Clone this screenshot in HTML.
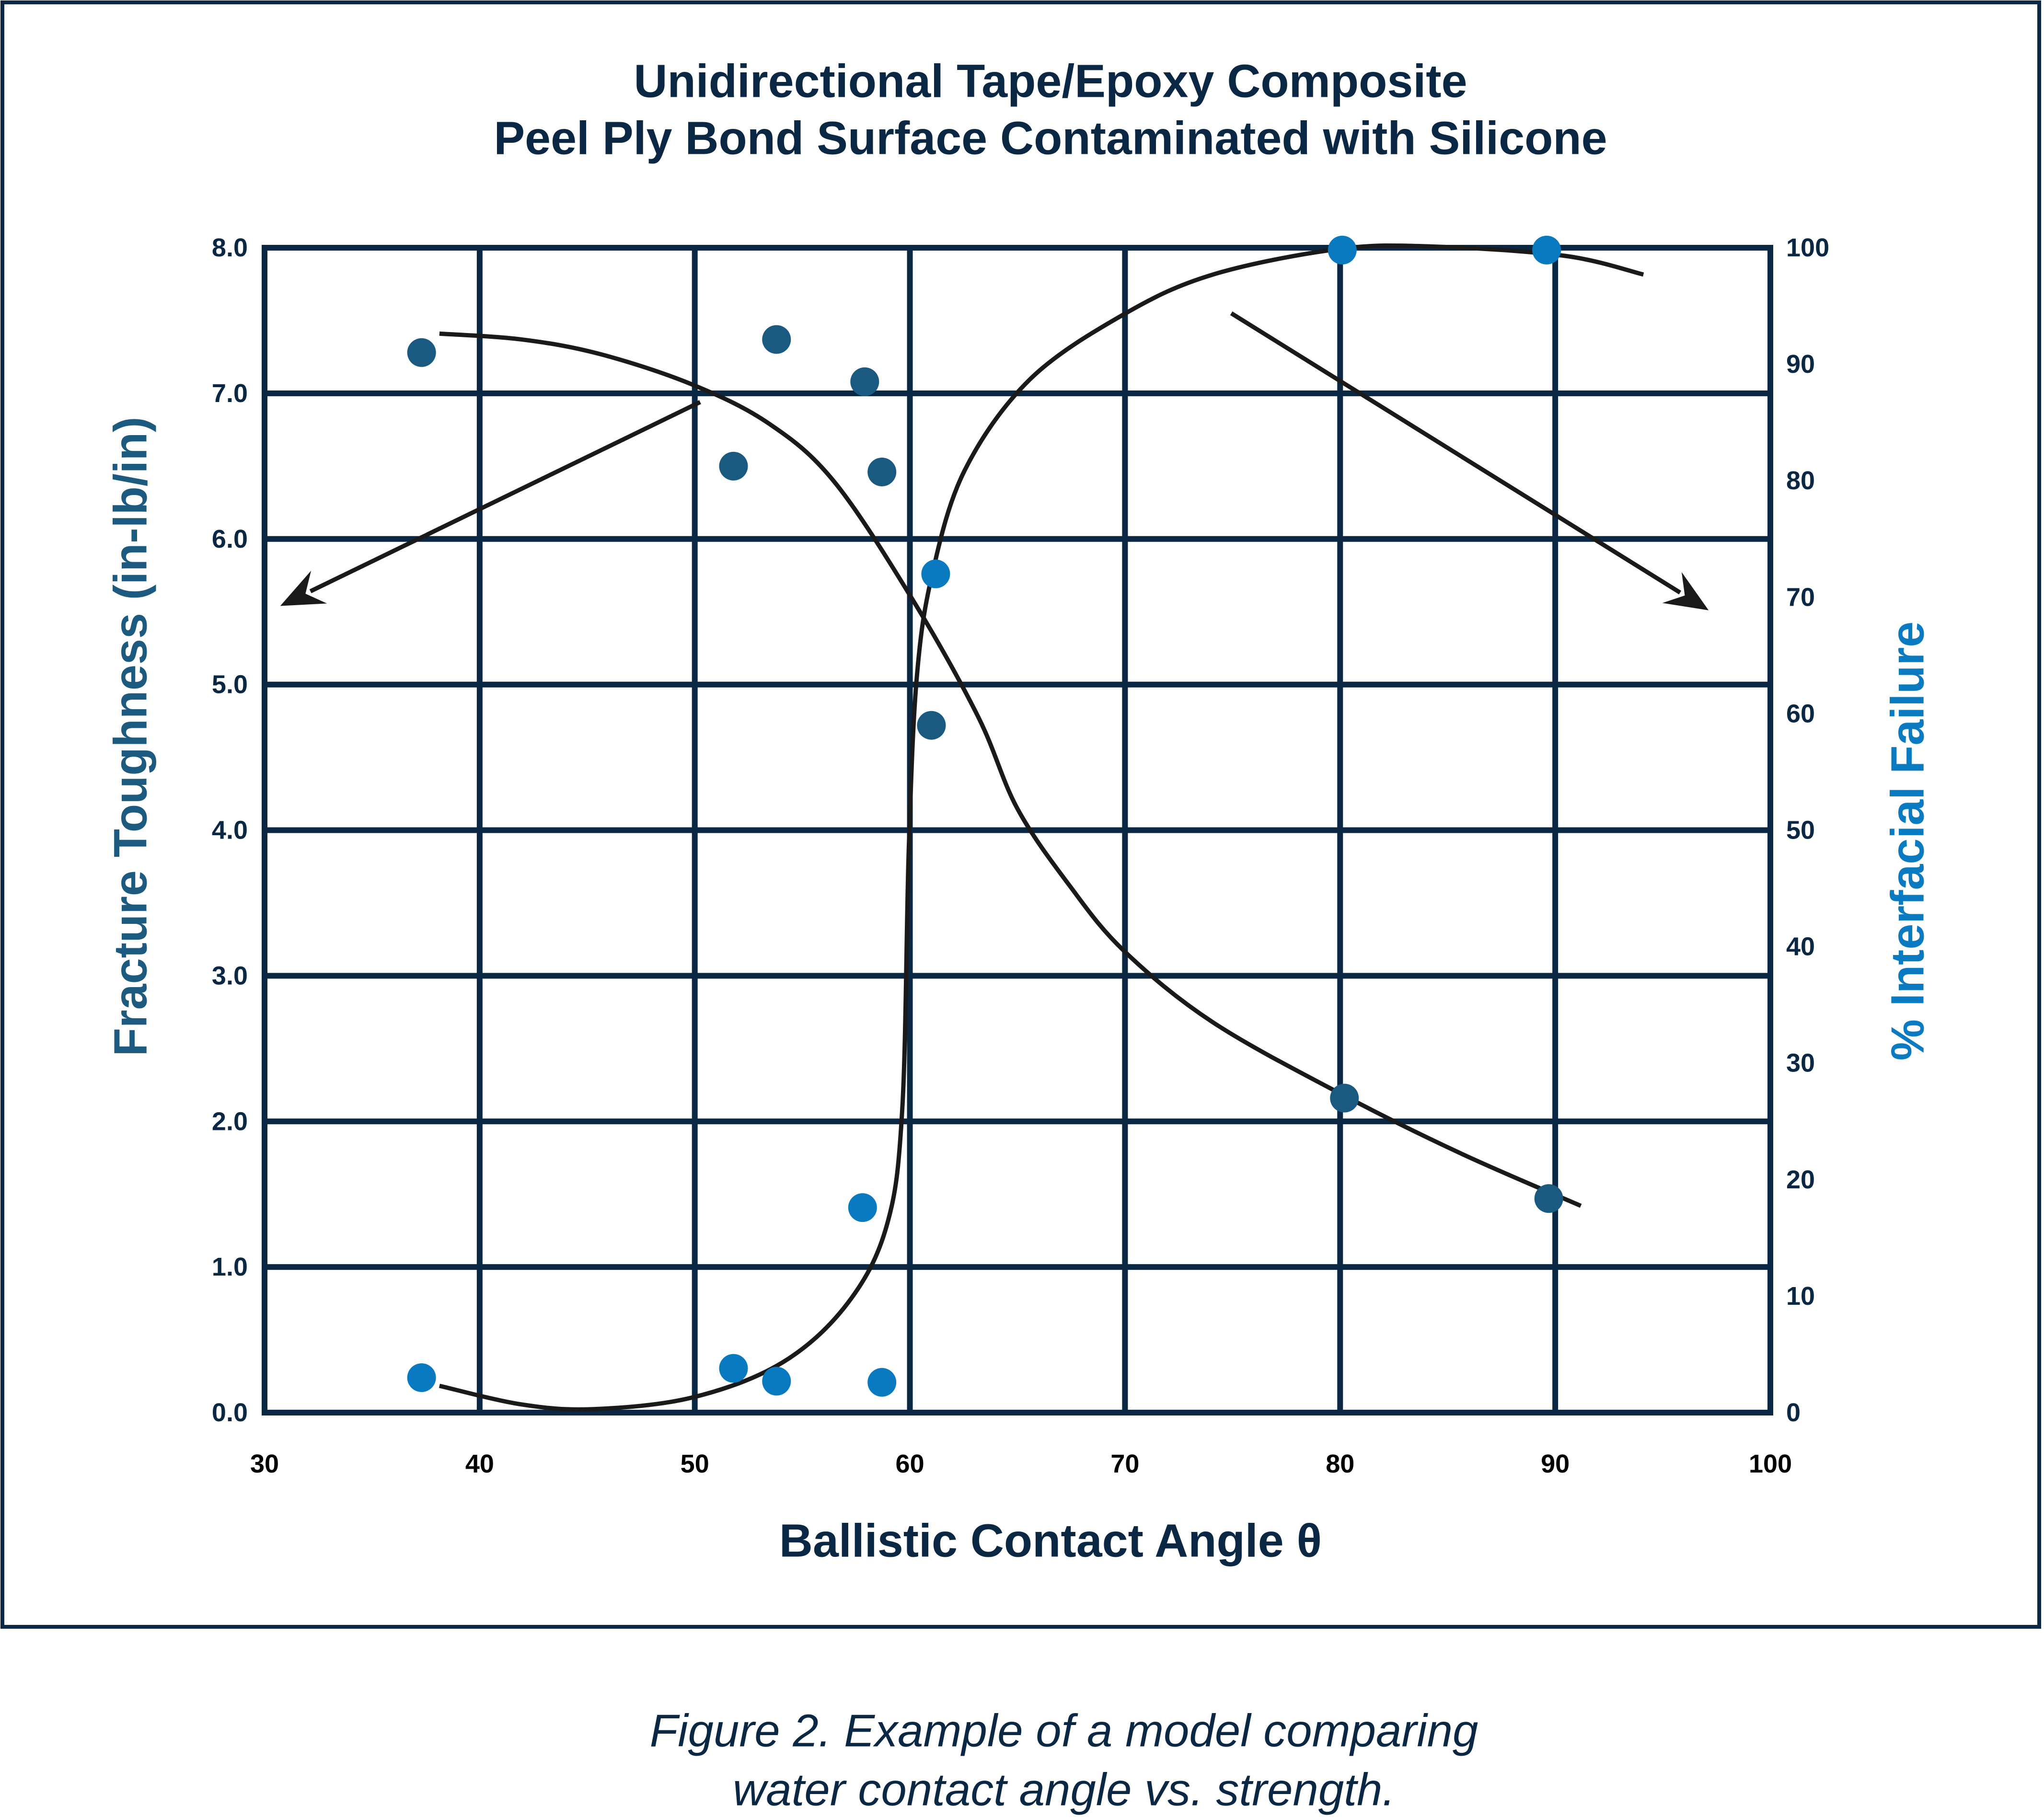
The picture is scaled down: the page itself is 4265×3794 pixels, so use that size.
<!DOCTYPE html>
<html><head><meta charset="utf-8"><style>
html,body{margin:0;padding:0;background:#fff;}
svg{display:block;font-family:"Liberation Sans",sans-serif;}
</style></head><body>
<svg id="chart" width="4265" height="3794" viewBox="0 0 4265 3794" xmlns="http://www.w3.org/2000/svg">
<rect x="5" y="5" width="4250" height="3390" fill="none" stroke="#0a2744" stroke-width="8"/>
<text x="2192" y="169" text-anchor="middle" dominant-baseline="central" font-size="97" font-weight="bold" fill="#0a2744">Unidirectional Tape/Epoxy Composite</text>
<text x="2192" y="288" text-anchor="middle" dominant-baseline="central" font-size="97" font-weight="bold" fill="#0a2744">Peel Ply Bond Surface Contaminated with Silicone</text>
<g id="grid"></g>
<g id="ticks"></g>
<g id="curves"></g>
<g id="arrows"></g>
<g id="points"></g>
<text x="2192" y="3215" text-anchor="middle" dominant-baseline="central" font-size="97" font-weight="bold" fill="#0a2744">Ballistic Contact Angle θ</text>
<text transform="translate(272,1537) rotate(-90)" text-anchor="middle" dominant-baseline="central" font-size="97" font-weight="bold" fill="#1c5a80">Fracture Toughness (in-lb/in)</text>
<text transform="translate(3980,1755) rotate(-90)" text-anchor="middle" dominant-baseline="central" font-size="97" font-weight="bold" fill="#0b7bc1">% Interfacial Failure</text>
<text x="2220" y="3612" text-anchor="middle" dominant-baseline="central" font-size="96" font-style="italic" fill="#0a2744">Figure 2.  Example of a model comparing</text>
<text x="2220" y="3735" text-anchor="middle" dominant-baseline="central" font-size="96" font-style="italic" fill="#0a2744">water contact angle vs. strength.</text>
</svg>
<script>
const xTicks=[30,40,50,60,70,80,90,100];
const yLeftTicks=["0.0","1.0","2.0","3.0","4.0","5.0","6.0","7.0","8.0"];
const yRightTicks=[0,10,20,30,40,50,60,70,80,90,100];
const toughX=[37.3,53.8,57.9,51.8,58.7,61.0,80.2,89.7];
const toughY=[7.28,7.37,7.08,6.50,6.46,4.72,2.16,1.47];
const failX=[37.3,51.8,53.8,57.8,58.7,61.2,80.1,89.6];
const failY=[3.0,3.8,2.7,17.6,2.6,72.0,99.8,99.8];
const toughCurveX=[38.13,41.95,45.59,49.89,53.47,56.5,60.14,63.17,64.99,67.42,69.96,74.09,80.15,85.61,91.19];
const toughCurveY=[7.41,7.37,7.27,7.06,6.79,6.39,5.58,4.78,4.15,3.62,3.17,2.68,2.18,1.78,1.42];
const failCurveX=[38.13,41.95,45.28,49.89,54.07,57.11,58.93,59.65,59.95,60.32,61.04,62.55,65.58,69.96,74.09,79.97,84.4,90.46,94.1];
const failCurveY=[2.3,0.7,0.3,1.3,4.3,9.4,16.1,26.2,48.5,63.1,72.0,80.9,88.7,94.3,97.7,99.9,100.1,99.3,97.7];
const arrowLeft=[50.25,6.94,30.73,5.54];
const arrowRight=[74.94,7.55,97.13,5.51];

const X0=552,X1=3694,YT=517,YB=2948;
const sx=v=>X0+(v-30)/70*(X1-X0);
const syL=v=>YB-v/8*(YB-YT);
const syR=v=>YB-v/100*(YB-YT);
const NS="http://www.w3.org/2000/svg";
function mk(tag,attrs,parent){const e=document.createElementNS(NS,tag);for(const k in attrs)e.setAttribute(k,attrs[k]);parent.appendChild(e);return e;}
const grid=document.getElementById('grid'),ticks=document.getElementById('ticks'),curves=document.getElementById('curves'),arrows=document.getElementById('arrows'),points=document.getElementById('points');
xTicks.forEach(t=>{
  const l=mk('line',{x1:sx(t),x2:sx(t),y1:YT,y2:YB,stroke:'#0a2744','stroke-width':12,'stroke-linecap':'square'},grid);
  
  
  const tx=mk('text',{x:sx(t),y:3055,'text-anchor':'middle','dominant-baseline':'central','font-size':54,'font-weight':'bold',fill:'#000'},ticks);
  tx.textContent=t;
  
  
});
yLeftTicks.forEach(t=>{
  const v=parseFloat(t);
  const l=mk('line',{x1:X0,x2:X1,y1:syL(v),y2:syL(v),stroke:'#0a2744','stroke-width':12,'stroke-linecap':'square'},grid);
  
  
  const tx=mk('text',{x:517,y:syL(v),'text-anchor':'end','dominant-baseline':'central','font-size':54,'font-weight':'bold',fill:'#0a2744'},ticks);
  tx.textContent=t;
  
  
});
yRightTicks.forEach(t=>{
  const tx=mk('text',{x:3727,y:syR(t),'text-anchor':'start','dominant-baseline':'central','font-size':54,'font-weight':'bold',fill:'#0a2744'},ticks);
  tx.textContent=t;
  
  
});
function smooth(pts){
  let d='M'+pts[0][0]+','+pts[0][1];
  for(let i=0;i<pts.length-1;i++){
    const p0=pts[i-1]||pts[i],p1=pts[i],p2=pts[i+1],p3=pts[i+2]||p2;
    const c1=[p1[0]+(p2[0]-p0[0])/6,p1[1]+(p2[1]-p0[1])/6];
    const c2=[p2[0]-(p3[0]-p1[0])/6,p2[1]-(p3[1]-p1[1])/6];
    d+=' C'+c1[0]+','+c1[1]+' '+c2[0]+','+c2[1]+' '+p2[0]+','+p2[1];
  }
  return d;
}
const tc=mk('path',{d:smooth(toughCurveX.map((x,i)=>[sx(x),syL(toughCurveY[i])])),fill:'none',stroke:'#1a1a1a','stroke-width':9},curves);


const fc=mk('path',{d:smooth(failCurveX.map((x,i)=>[sx(x),syR(failCurveY[i])])),fill:'none',stroke:'#1a1a1a','stroke-width':9},curves);


function arrow(a,name){
  const x1=sx(a[0]),y1=syL(a[1]),x2=sx(a[2]),y2=syL(a[3]);
  const ang=Math.atan2(y2-y1,x2-x1),L=90,W=38;
  const bx=x2-L*Math.cos(ang),by=y2-L*Math.sin(ang);
  const px=-Math.sin(ang),py=Math.cos(ang);
  const g=mk('g',{},arrows);
  
  
  mk('line',{x1:x1,y1:y1,x2:bx+20*Math.cos(ang),y2:by+20*Math.sin(ang),stroke:'#1a1a1a','stroke-width':9},g);
  const ix=x2-L*0.65*Math.cos(ang),iy=y2-L*0.65*Math.sin(ang);
  mk('path',{d:`M${x2},${y2} L${bx+W*px},${by+W*py} L${ix},${iy} L${bx-W*px},${by-W*py} Z`,fill:'#1a1a1a'},g);
}
arrow(arrowLeft,'toughness-axis-arrow');
arrow(arrowRight,'failure-axis-arrow');
toughX.forEach((x,i)=>{
  const c=mk('circle',{cx:sx(x),cy:syL(toughY[i]),r:30,fill:'#1b5a80'},points);
  
  
});
failX.forEach((x,i)=>{
  const c=mk('circle',{cx:sx(x),cy:syR(failY[i]),r:30,fill:'#0a7ac0'},points);
  
  
});
</script>
</body></html>
